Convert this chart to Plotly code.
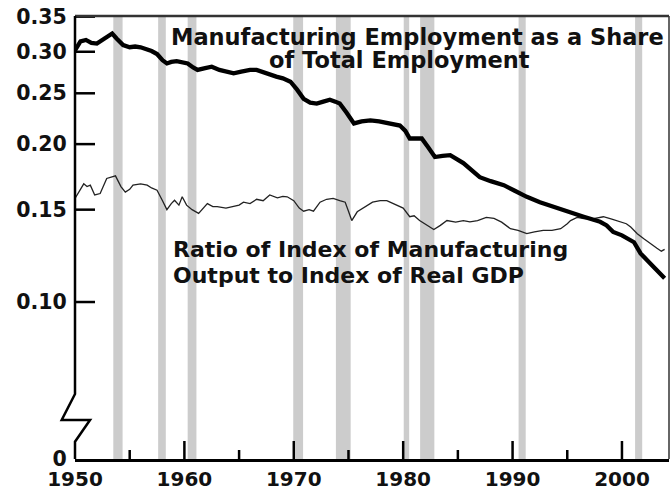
import math
import plotly.graph_objects as go

# ---------------- data ----------------
emp_years = [1950.0, 1950.5, 1951.0, 1951.5, 1952.0, 1952.5, 1953.0, 1953.4, 1953.8, 1954.4,
             1955.0, 1955.5, 1956.0, 1956.5, 1957.0, 1957.5, 1958.0, 1958.4, 1958.8, 1959.3,
             1959.8, 1960.3, 1960.8, 1961.2, 1961.8, 1962.5, 1963.2, 1964.0, 1964.5, 1965.2,
             1966.0, 1966.6, 1967.2, 1967.8, 1968.4, 1969.0, 1969.7, 1970.3, 1970.9, 1971.5,
             1972.1, 1972.7, 1973.3, 1973.8, 1974.2, 1974.8, 1975.5, 1976.2, 1977.0, 1977.8,
             1978.8, 1979.7, 1980.2, 1980.6, 1981.2, 1981.7, 1982.3, 1982.9, 1983.6, 1984.3,
             1985.5, 1986.5, 1987.0, 1988.0, 1989.2, 1990.2, 1991.3, 1992.5, 1994.1, 1995.3,
             1996.5, 1998.0, 1998.6, 1999.2, 2000.0, 2001.1, 2001.7, 2002.5, 2003.2, 2003.9]
emp_share = [0.302, 0.314, 0.316, 0.312, 0.311, 0.316, 0.322, 0.325, 0.318, 0.309,
             0.306, 0.307, 0.306, 0.304, 0.301, 0.297, 0.289, 0.285, 0.287, 0.288,
             0.287, 0.285, 0.280, 0.277, 0.279, 0.281, 0.277, 0.274, 0.273, 0.275,
             0.277, 0.277, 0.274, 0.271, 0.269, 0.267, 0.263, 0.254, 0.244, 0.240,
             0.239, 0.241, 0.243, 0.241, 0.239, 0.230, 0.219, 0.221, 0.222, 0.221,
             0.219, 0.217, 0.212, 0.205, 0.205, 0.205, 0.197, 0.189, 0.190, 0.1905,
             0.184, 0.177, 0.173, 0.170, 0.167, 0.163, 0.1587, 0.155, 0.1508, 0.148,
             0.1454, 0.1422, 0.140, 0.136, 0.134, 0.130, 0.1238, 0.119, 0.115, 0.111]

ratio_years = [1950.0, 1950.4, 1950.8, 1951.1, 1951.4, 1951.8, 1952.3, 1952.9, 1953.3, 1953.7,
               1954.2, 1954.6, 1955.0, 1955.3, 1956.0, 1956.6, 1957.0, 1957.5, 1958.0, 1958.4,
               1958.8, 1959.1, 1959.5, 1959.8, 1960.2, 1960.7, 1961.3, 1961.7, 1962.1, 1962.6,
               1963.0, 1963.8, 1964.5, 1965.0, 1965.4, 1966.0, 1966.6, 1967.2, 1967.8, 1968.5,
               1969.0, 1969.4, 1970.0, 1970.5, 1970.9, 1971.4, 1971.8, 1972.4, 1973.0, 1973.6,
               1974.2, 1974.7, 1975.0, 1975.3, 1975.8, 1976.5, 1977.2, 1977.9, 1978.5, 1978.8,
               1979.4, 1980.0, 1980.6, 1981.0, 1981.5, 1982.2, 1982.8, 1983.4, 1984.0, 1984.8,
               1985.5, 1986.1, 1986.8, 1987.6, 1988.3, 1989.0, 1989.8, 1990.5, 1991.3, 1992.0,
               1992.8, 1993.6, 1994.4, 1995.0, 1995.3, 1995.9, 1996.5, 1997.3, 1998.3, 1999.0,
               1999.8, 2000.4, 2000.8, 2001.4, 2002.0, 2002.6, 2003.2, 2003.6, 2003.9]
ratio_vals = [0.1576, 0.163, 0.168, 0.166, 0.167, 0.160, 0.161, 0.172, 0.173, 0.174,
              0.166, 0.162, 0.164, 0.167, 0.168, 0.167, 0.165, 0.1634, 0.156, 0.150,
              0.154, 0.1563, 0.153, 0.1587, 0.153, 0.150, 0.1476, 0.151, 0.154, 0.152,
              0.152, 0.151, 0.152, 0.153, 0.155, 0.154, 0.157, 0.156, 0.160, 0.158,
              0.159, 0.1587, 0.156, 0.151, 0.149, 0.150, 0.149, 0.155, 0.157, 0.1576,
              0.156, 0.155, 0.149, 0.143, 0.1486, 0.152, 0.155, 0.156, 0.156, 0.155,
              0.153, 0.151, 0.1454, 0.146, 0.143, 0.140, 0.1375, 0.140, 0.143, 0.142,
              0.143, 0.1422, 0.143, 0.145, 0.1443, 0.142, 0.138, 0.137, 0.135, 0.136,
              0.137, 0.137, 0.138, 0.141, 0.143, 0.145, 0.1443, 0.144, 0.1454, 0.144,
              0.1422, 0.141, 0.139, 0.135, 0.132, 0.129, 0.1266, 0.125, 0.126]

recession_start = [1953.5, 1957.6, 1960.3, 1969.95, 1973.85, 1980.05, 1981.55, 1990.55, 2001.2]
recession_end = [1954.35, 1958.3, 1961.1, 1970.85, 1975.2, 1980.55, 1982.85, 1991.2, 2001.85]

y_tick_vals = [0.0502, 0.10, 0.15, 0.20, 0.25, 0.30, 0.35]
y_tick_text = ["0", "0.10", "0.15", "0.20", "0.25", "0.30", "0.35"]
x_tick_vals = [1950, 1960, 1970, 1980, 1990, 2000]
x_tick_text = ["1950", "1960", "1970", "1980", "1990", "2000"]
x_minor_vals = [1955, 1965, 1975, 1985, 1995]

label_emp_1 = "Manufacturing Employment as a Share"
label_emp_2 = "of Total Employment"
label_ratio_1 = "Ratio of Index of Manufacturing"
label_ratio_2 = "Output to Index of Real GDP"

# ---------------- figure ----------------
FONT = "DejaVu Sans"
NB = "\u00a0"
W, H = 670, 489
ML, MR, MT, MB = 75, 1, 16, 30
PW, PH = W - ML - MR, H - MT - MB
X_RANGE = [1950, 2004.3]
Y_LOG_RANGE = [math.log10(0.0502), math.log10(0.351)]
px_per_year = PW / (X_RANGE[1] - X_RANGE[0])
px_per_decade = PH / (Y_LOG_RANGE[1] - Y_LOG_RANGE[0])
y_bottom = 10 ** Y_LOG_RANGE[0]
TICK_COLOR = "#000000"

fig = go.Figure()
fig.add_trace(go.Scatter(x=ratio_years, y=ratio_vals, mode="lines",
                         line=dict(color="#222222", width=1.3), showlegend=False,
                         hoverinfo="skip"))
fig.add_trace(go.Scatter(x=emp_years, y=emp_share, mode="lines",
                         line=dict(color="#000000", width=4.3), showlegend=False,
                         hoverinfo="skip"))

# tick marks drawn through the axes' own scales (inside ticks)
def x_tick_trace(vals, length_px):
    xs, ys = [], []
    top = y_bottom * 10 ** (length_px / px_per_decade)
    for v in vals:
        xs += [v, v, None]
        ys += [y_bottom, top, None]
    return go.Scatter(x=xs, y=ys, mode="lines", line=dict(color=TICK_COLOR, width=2.5),
                      showlegend=False, hoverinfo="skip", cliponaxis=False)

fig.add_trace(x_tick_trace(x_tick_vals[1:], 18))
fig.add_trace(x_tick_trace(x_minor_vals, 9))
ys, xs = [], []
for v in y_tick_vals[1:]:
    xs += [X_RANGE[0], X_RANGE[0] + 20 / px_per_year, None]
    ys += [v, v, None]
fig.add_trace(go.Scatter(x=xs, y=ys, mode="lines", line=dict(color=TICK_COLOR, width=2.5),
                         showlegend=False, hoverinfo="skip", cliponaxis=False))

shapes = []
for s, e in zip(recession_start, recession_end):
    shapes.append(dict(type="rect", xref="x", yref="paper", x0=s, x1=e, y0=0, y1=1,
                       fillcolor="#cccccc", line=dict(width=0), layer="below"))
shapes.append(dict(type="line", xref="paper", yref="paper", x0=0, x1=1, y0=1, y1=1,
                   line=dict(color="#333333", width=2.5), layer="above"))
shapes.append(dict(type="line", xref="paper", yref="paper", x0=1, x1=1, y0=0, y1=1,
                   line=dict(color="#333333", width=1.5), layer="above"))
shapes.append(dict(type="path", xref="paper", yref="paper",
                   path="M 0,1 L 0,0.1467 L -0.0224,0.088 L 0.0253,0.088 L 0,0.039 L 0,0",
                   line=dict(color="#000000", width=2.5), layer="above"))

annotations = [
    dict(text=label_emp_1, xref="paper", yref="paper", x=0.577, y=0.9526,
         xanchor="center", yanchor="middle", showarrow=False,
         font=dict(family=FONT, size=22.5, color="#111111", weight="bold")),
    dict(text=label_emp_2, xref="paper", yref="paper", x=0.547, y=0.9007,
         xanchor="center", yanchor="middle", showarrow=False,
         font=dict(family=FONT, size=22.5, color="#111111", weight="bold")),
    dict(text=label_ratio_1, xref="paper", yref="paper", x=0.162, y=0.4718,
         xanchor="left", yanchor="middle", showarrow=False,
         font=dict(family=FONT, size=22, color="#111111", weight="bold")),
    dict(text=label_ratio_2, xref="paper", yref="paper", x=0.162, y=0.4153,
         xanchor="left", yanchor="middle", showarrow=False,
         font=dict(family=FONT, size=22, color="#111111", weight="bold")),
]

fig.update_layout(
    template="none",
    width=W, height=H,
    margin=dict(l=ML, r=MR, t=MT, b=MB, pad=0),
    paper_bgcolor="white", plot_bgcolor="white",
    shapes=shapes, annotations=annotations, showlegend=False,
    xaxis=dict(range=X_RANGE, tickvals=x_tick_vals, ticktext=x_tick_text,
               ticks="", showline=True, linewidth=2.5, linecolor="black",
               showgrid=False, zeroline=False,
               tickfont=dict(family=FONT, size=20, color="#111111", weight="bold")),
    yaxis=dict(type="log", range=Y_LOG_RANGE,
               tickvals=y_tick_vals, ticktext=[t + NB for t in y_tick_text],
               ticks="", showline=False, showgrid=False, zeroline=False,
               tickfont=dict(family=FONT, size=20.5, color="#111111", weight="bold")),
)

fig.write_html("out.html", config={"displayModeBar": False},
               post_script="document.body.style.margin='0';document.body.style.overflow='hidden';")
